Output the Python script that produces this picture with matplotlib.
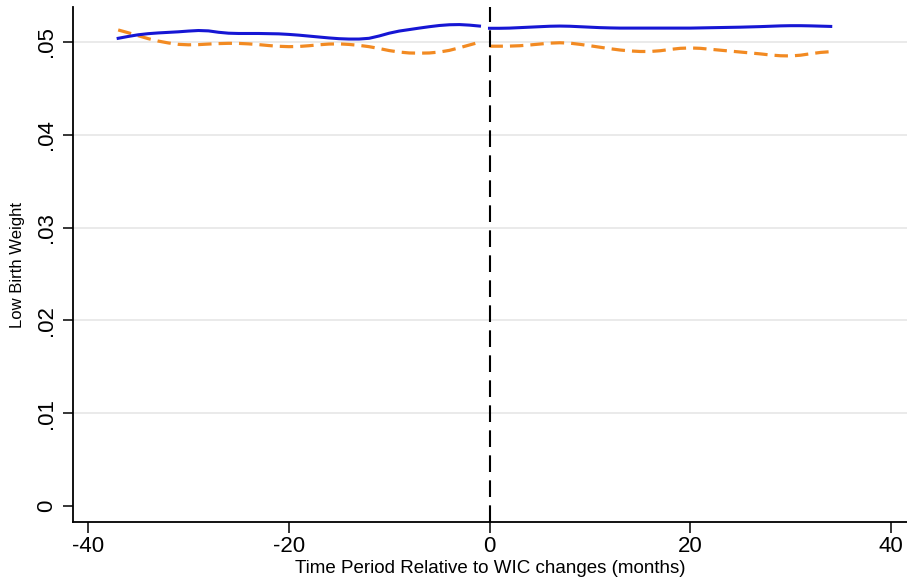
import matplotlib
matplotlib.use("Agg")
import matplotlib.pyplot as plt
from matplotlib.ticker import FixedLocator, FixedFormatter

plt.rcParams['font.family'] = ['Liberation Sans', 'DejaVu Sans']

# Months relative to the WIC change, split at the policy date
months_pre = list(range(-37, 0))
months_post = list(range(0, 35))

lbw_blue_pre = [
    .05040, .05060, .05078, .05090, .05098, .05104, .05110, .05118, .05124, .05120,
    .05105, .05095, .05092, .05092, .05092, .05090, .05088, .05082, .05074, .05064,
    .05054, .05044, .05036, .05032, .05032, .05040, .05065, .05095, .05118, .05134,
    .05150, .05165, .05178, .05186, .05188, .05182, .05172,
]
lbw_blue_post = [
    .05148, .05148, .05150, .05155, .05160, .05165, .05170, .05172, .05170, .05165,
    .05160, .05155, .05152, .05150, .05150, .05150, .05150, .05150, .05150, .05150,
    .05150, .05152, .05154, .05156, .05158, .05160, .05163, .05166, .05170, .05174,
    .05176, .05176, .05174, .05171, .05168,
]
lbw_orange_pre = [
    .05130, .05100, .05068, .05036, .05010, .04990, .04975, .04970, .04972, .04978,
    .04983, .04986, .04985, .04980, .04972, .04962, .04954, .04950, .04952, .04960,
    .04970, .04978, .04980, .04974, .04964, .04950, .04930, .04908, .04892, .04882,
    .04880, .04882, .04892, .04910, .04938, .04968, .04998,
]
lbw_orange_post = [
    .04955, .04955, .04956, .04960, .04968, .04978, .04988, .04992, .04988, .04975,
    .04960, .04944, .04928, .04914, .04904, .04898, .04898, .04906, .04920, .04932,
    .04936, .04932, .04922, .04912, .04902, .04892, .04882, .04872, .04860, .04852,
    .04850, .04858, .04874, .04888, .04896,
]

x_ticks = [-40, -20, 0, 20, 40]
x_tick_labels = ["-40", "-20", "0", "20", "40"]
y_ticks = [0, .01, .02, .03, .04, .05]
y_tick_labels = ["0", ".01", ".02", ".03", ".04", ".05"]

fig = plt.figure(figsize=(9.07, 5.86), dpi=100)
ax = fig.add_axes([0.0805, 0.1092, 0.9195, 0.8788])

blue = "#1616d4"
orange = "#f28a22"

for y in y_ticks[1:]:
    ax.axhline(y, color="#e8e8e8", lw=1.3, zorder=0)

ax.plot(months_pre, lbw_blue_pre, color=blue, lw=2.2, zorder=3)
ax.plot(months_post, lbw_blue_post, color=blue, lw=2.2, zorder=3)
ax.plot(months_pre, lbw_orange_pre, color=orange, lw=2.3, dashes=(4.2, 2.2), zorder=2)
ax.plot(months_post, lbw_orange_post, color=orange, lw=2.3, dashes=(4.2, 2.2), zorder=2)

ax.axvline(0, color="black", lw=1.5, dashes=(8, 4), zorder=4)

ax.set_xlim(-41.5, 41.6)
ax.set_ylim(-0.00172, 0.05377)

ax.xaxis.set_major_locator(FixedLocator(x_ticks))
ax.xaxis.set_major_formatter(FixedFormatter(x_tick_labels))
ax.yaxis.set_major_locator(FixedLocator(y_ticks))
ax.yaxis.set_major_formatter(FixedFormatter(y_tick_labels))

ax.tick_params(axis="x", labelsize=16, length=8, width=1.1, pad=2)
ax.tick_params(axis="y", labelsize=16, length=7.5, width=1.1, pad=4)
for lbl in ax.get_yticklabels():
    lbl.set_rotation(90)
    lbl.set_va("center")

for s in ["top", "right"]:
    ax.spines[s].set_visible(False)
for s in ["left", "bottom"]:
    ax.spines[s].set_linewidth(1.3)

ax.set_xlabel("Time Period Relative to WIC changes (months)", fontsize=13.5, labelpad=2)
ax.set_ylabel("Low Birth Weight", fontsize=12, va="center")
ax.yaxis.set_label_coords(-0.066, 0.5)

fig.savefig("out.png", dpi=100, facecolor="white")
